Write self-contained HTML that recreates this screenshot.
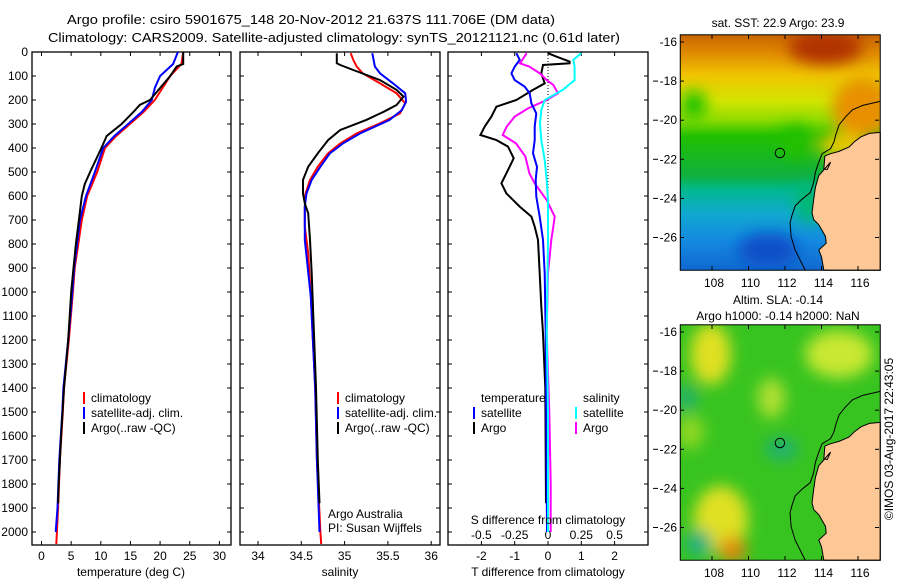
<!DOCTYPE html>
<html><head><meta charset="utf-8"><style>
html,body{margin:0;padding:0;background:#fff}
svg{display:block;font-family:"Liberation Sans",sans-serif}
text{fill:#000}
</style></head><body>
<svg id="chart" width="900" height="580" viewBox="0 0 900 580">
<defs>
<clipPath id="cp1"><rect x="32" y="52" width="199" height="493"/></clipPath>
<clipPath id="cp2"><rect x="240" y="52" width="200" height="493"/></clipPath>
<clipPath id="cp3"><rect x="448" y="52" width="200" height="493"/></clipPath>
<clipPath id="mapclip"><rect x="60" y="103" width="592" height="697"/></clipPath>
<filter id="blur" x="-20%" y="-20%" width="140%" height="140%"><feGaussianBlur stdDeviation="22"/></filter>
<linearGradient id="sstg" x1="0" y1="0" x2="0" y2="1">
<stop offset="0" stop-color="#c86400"/><stop offset="0.08" stop-color="#e08c00"/>
<stop offset="0.17" stop-color="#f0c400"/><stop offset="0.28" stop-color="#d4e400"/>
<stop offset="0.36" stop-color="#90dc00"/><stop offset="0.43" stop-color="#20c000"/>
<stop offset="0.6" stop-color="#10b040"/><stop offset="0.66" stop-color="#00b890"/>
<stop offset="0.76" stop-color="#10a8d0"/><stop offset="0.88" stop-color="#1488e0"/>
<stop offset="1" stop-color="#1068d0"/></linearGradient>
<g id="coast">
<path d="M652,300 L600,312 570,325 550,345 530,370 520,400 515,420 505,440 480,455 470,480 460,510 455,540 445,570 420,590 400,610 390,640 385,660 388,700 400,740 420,780 430,800" fill="none" stroke="#000" stroke-width="3"/>
<polygon points="652,392 620,395 595,405 575,420 560,435 530,448 505,455 488,462 485,500 495,502 505,480 470,520 460,555 455,590 450,630 455,650 470,665 490,700 492,720 470,740 478,760 485,800 652,800" fill="#fdc896" stroke="#000" stroke-width="3"/>
<circle cx="355" cy="453" r="14" fill="none" stroke="#000" stroke-width="3"/>
</g>
</defs>

<text x="311" y="24" text-anchor="middle" font-size="13" textLength="488" lengthAdjust="spacingAndGlyphs">Argo profile: csiro 5901675_148 20-Nov-2012 21.637S 111.706E (DM data)</text>
<text x="334" y="42" text-anchor="middle" font-size="13" textLength="572" lengthAdjust="spacingAndGlyphs">Climatology: CARS2009. Satellite-adjusted climatology: synTS_20121121.nc (0.61d later)</text>

<g id="axes"></g>
<g id="series"></g>

<g font-size="12">
<rect x="83" y="392" width="2" height="12" fill="#f00"/><text x="91" y="402">climatology</text>
<rect x="83" y="407" width="2" height="12" fill="#00f"/><text x="91" y="417">satellite-adj. clim.</text>
<rect x="83" y="422" width="2" height="12" fill="#000"/><text x="91" y="432">Argo(..raw -QC)</text>
</g>
<g font-size="12">
<rect x="337" y="392" width="2" height="12" fill="#f00"/><text x="345" y="402">climatology</text>
<rect x="337" y="407" width="2" height="12" fill="#00f"/><text x="345" y="417">satellite-adj. clim.</text>
<rect x="337" y="422" width="2" height="12" fill="#000"/><text x="345" y="432">Argo(..raw -QC)</text>
</g>
<text x="328" y="518" font-size="12">Argo Australia</text>
<text x="328" y="532" font-size="12">PI: Susan Wijffels</text>
<g font-size="12">
<text x="481" y="402">temperature</text>
<rect x="473" y="407" width="2" height="12" fill="#00f"/><text x="481" y="417">satellite</text>
<rect x="473" y="422" width="2" height="12" fill="#000"/><text x="481" y="432">Argo</text>
<text x="583" y="402">salinity</text>
<rect x="575" y="407" width="2" height="12" fill="#0ff"/><text x="583" y="417">satellite</text>
<rect x="575" y="422" width="2" height="12" fill="#f0f"/><text x="583" y="432">Argo</text>
</g>
<text x="548" y="524" text-anchor="middle" font-size="12">S difference from climatology</text>

<!-- top map -->
<g>
<text x="778" y="27" text-anchor="middle" font-size="12">sat. SST: 22.9 Argo: 23.9</text>
<g transform="translate(660,0) scale(0.3378)">
<g clip-path="url(#mapclip)">
<rect x="60" y="103" width="592" height="697" fill="url(#sstg)"/>
<g filter="url(#blur)">
<ellipse cx="490" cy="140" rx="110" ry="50" fill="#b03000"/>
<ellipse cx="600" cy="320" rx="90" ry="90" fill="#e89000"/>
<ellipse cx="540" cy="430" rx="70" ry="40" fill="#e8c800"/>
<ellipse cx="100" cy="310" rx="35" ry="40" fill="#10c000"/>
<ellipse cx="400" cy="420" rx="50" ry="50" fill="#20c000"/>
<ellipse cx="320" cy="740" rx="90" ry="50" fill="#0850c8"/>
<ellipse cx="440" cy="600" rx="40" ry="60" fill="#00b870"/>
</g>
</g>
<use href="#coast"/>
<rect x="60" y="103" width="592" height="697" fill="none" stroke="#000" stroke-width="3"/>
</g>
</g>
<!-- bottom map -->
<g>
<text x="778" y="304" text-anchor="middle" font-size="12">Altim. SLA: -0.14</text>
<text x="778" y="320" text-anchor="middle" font-size="12">Argo h1000: -0.14 h2000: NaN</text>
<g transform="translate(660,290) scale(0.3378)">
<g clip-path="url(#mapclip)">
<rect x="60" y="103" width="592" height="697" fill="#38c420"/>
<g filter="url(#blur)">
<ellipse cx="150" cy="190" rx="60" ry="90" fill="#e0e020"/>
<ellipse cx="530" cy="190" rx="100" ry="70" fill="#c8e830"/>
<ellipse cx="330" cy="320" rx="40" ry="60" fill="#b0e030"/>
<ellipse cx="180" cy="680" rx="80" ry="100" fill="#e0e020"/>
<ellipse cx="215" cy="770" rx="40" ry="40" fill="#e08810"/>
<ellipse cx="115" cy="750" rx="40" ry="40" fill="#20b080"/>
<ellipse cx="360" cy="470" rx="50" ry="35" fill="#20b070"/>
<ellipse cx="80" cy="320" rx="30" ry="40" fill="#20b070"/>
<ellipse cx="90" cy="420" rx="40" ry="50" fill="#90d820"/>
</g>
</g>
<use href="#coast"/>
<rect x="60" y="103" width="592" height="697" fill="none" stroke="#000" stroke-width="3"/>
</g>
</g>
<g id="mapaxes" font-size="12"></g>
<text transform="translate(893,439) rotate(-90)" text-anchor="middle" font-size="12">©IMOS 03-Aug-2017 22:43:05</text>
</svg>
<script>
// ---- data ----
const tempClimDepth = [0,50,100,150,200,250,300,350,400,500,600,700,800,900,1000,1200,1400,1500,1700,1900,2000,2050];
const tempClimVal   = [23.9,23.6,21.7,20.4,19.1,17.2,14.9,12.6,10.7,9.4,7.7,6.8,6.2,5.6,5.3,4.6,3.8,3.6,3.1,2.8,2.6,2.5];
const tempSatDepth  = [0,50,100,150,200,250,300,350,400,500,600,700,800,900,1000,1200,1400,1500,1700,1900,2000];
const tempSatVal    = [23.0,22.2,20.0,19.1,18.6,16.9,14.6,12.3,10.4,9.0,7.5,6.5,6.0,5.5,5.2,4.5,3.7,3.5,3.0,2.7,2.4];
const tempArgoDepth = [0,50,60,100,150,200,220,250,300,350,400,500,550,600,700,800,900,1000,1200,1400,1600,1800,1880];
const tempArgoVal   = [23.9,23.9,22.8,21.7,20.0,18.3,16.6,15.5,13.5,11.0,10.1,8.2,7.3,6.8,6.3,5.8,5.4,5.0,4.5,3.8,3.3,2.9,2.8];

const salClimDepth = [5,33,61,89,131,172,214,256,297,339,381,422,478,533,589,644,728,839,1019,1400,1700,2000,2050];
const salClimVal   = [35.07,35.10,35.14,35.21,35.41,35.60,35.70,35.64,35.41,35.14,34.95,34.81,34.69,34.60,34.55,34.54,34.54,34.58,34.61,34.66,34.68,34.72,34.73];
const salSatDepth  = [5,61,89,131,172,207,242,283,339,381,422,478,533,589,644,783,1019,1400,1700,2000];
const salSatVal    = [35.32,35.35,35.41,35.56,35.70,35.71,35.66,35.52,35.18,34.98,34.83,34.72,34.62,34.56,34.54,34.54,34.61,34.66,34.68,34.71];
const salArgoDepth = [5,47,54,75,117,158,186,221,249,283,325,367,422,478,533,589,631,672,783,922,1400,1700,1880];
const salArgoVal   = [34.91,34.91,34.95,35.10,35.41,35.60,35.68,35.60,35.45,35.25,34.95,34.81,34.69,34.58,34.52,34.52,34.54,34.58,34.60,34.62,34.67,34.69,34.71];

const tdSatDepth  = [5,33,61,89,117,144,172,214,256,311,367,422,478,533,603,686,783,922,1172,1500,2000];
const tdSatVal    = [-0.95,-0.85,-1.0,-1.1,-1.0,-0.7,-0.55,-0.5,-0.35,-0.4,-0.4,-0.45,-0.33,-0.37,-0.35,-0.25,-0.15,-0.1,-0.07,-0.05,-0.03];
const tdArgoDepth = [5,19,40,47,54,89,131,158,200,228,269,311,346,367,394,443,492,547,589,644,686,728,783,922,1061,1172,1400,1880];
const tdArgoVal   = [0,0.25,0.65,0.65,-0.15,-0.2,-0.1,-0.45,-0.95,-1.55,-1.7,-1.9,-2.03,-1.55,-1.2,-1.03,-1.2,-1.4,-1.25,-0.85,-0.5,-0.4,-0.3,-0.25,-0.2,-0.15,-0.08,-0.06];
const sdSatDepth  = [5,33,61,117,158,200,242,297,367,450,533,617,783,1172,1500,2000];
const sdSatVal    = [0.25,0.19,0.2,0.2,0.11,-0.025,-0.05,-0.06,-0.05,-0.025,-0.01,0,0,-0.01,0,0];
const sdArgoDepth = [5,47,61,89,117,137,172,200,235,269,311,346,381,436,506,547,617,686,728,783,922,1172,1500,1800,2000];
const sdArgoVal   = [-0.16,-0.21,-0.14,-0.06,-0.01,0.04,0.075,-0.01,-0.15,-0.25,-0.31,-0.34,-0.24,-0.17,-0.14,-0.1,-0.01,0.05,0.04,0.025,0,-0.01,0.01,0.02,0.02];

const depthTicks = [0,100,200,300,400,500,600,700,800,900,1000,1100,1200,1300,1400,1500,1600,1700,1800,1900,2000];
const tempTicks = [0,5,10,15,20,25,30];
const salTicks = [34,34.5,35,35.5,36];
const salTickLabels = ["34","34.5","35","35.5","36"];
const tdTicks = [-2,-1,0,1,2];
const sdTicks = [-0.5,-0.25,0,0.25,0.5];
const sdTickLabels = ["-0.5","-0.25","0","0.25","0.5"];
const latTicks = [-16,-18,-20,-22,-24,-26];
const lonTicks = [108,110,112,114,116];

// ---- scales ----
const yD = d => 52 + d * 0.24;
const xT = t => 41.5 + t * 5.93;
const xS = s => 258 + (s - 34) * 86.6;
const xTD = v => 548 + v * 33.3;
const xSD = v => 548 + v * 133.2;
const yLat = l => 42 + (-16 - l) * 19.55;
const xLon = l => 712 + (l - 108) * 18.25;

const NS = "http://www.w3.org/2000/svg";
function mk(tag, attrs, parent){const e=document.createElementNS(NS,tag);for(const k in attrs)e.setAttribute(k,attrs[k]);parent.appendChild(e);return e;}
const axes = document.getElementById('axes');
const series = document.getElementById('series');
const panels = [[32,231],[240,440],[448,648]];
const top0 = 52, bot = 545;

panels.forEach((p,i)=>{
  const r = mk('rect',{x:p[0],y:top0,width:p[1]-p[0],height:bot-top0,fill:'none',stroke:'#000','stroke-width':1.3},axes);
  
  
  depthTicks.forEach(d=>{
    mk('line',{x1:p[0],x2:p[0]+4,y1:yD(d),y2:yD(d),stroke:'#000'},axes);
    mk('line',{x1:p[1]-4,x2:p[1],y1:yD(d),y2:yD(d),stroke:'#000'},axes);
  });
});
depthTicks.forEach(d=>{
  const t = mk('text',{x:28,y:yD(d)+4,'text-anchor':'end','font-size':12},axes);
  t.textContent = d;
  
  
});

function xAxis(ticks, labels, sc, y, name, topTicks){
  ticks.forEach((v,i)=>{
    const x = sc(v);
    mk('line',{x1:x,x2:x,y1:bot-4,y2:bot,stroke:'#000'},axes);
    if(topTicks) mk('line',{x1:x,x2:x,y1:top0,y2:top0+4,stroke:'#000'},axes);
    const t = mk('text',{x:x,y:y,'text-anchor':'middle','font-size':12},axes);
    t.textContent = labels ? labels[i] : v;
    
    
  });
}
xAxis(tempTicks,null,xT,560,'temperature-tick-label',true);
xAxis(salTicks,salTickLabels,xS,560,'salinity-tick-label',true);
xAxis(tdTicks,null,xTD,560,'t-diff-tick-label',true);
sdTicks.forEach((v,i)=>{
  const t = mk('text',{x:xSD(v),y:539,'text-anchor':'middle','font-size':12},axes);
  t.textContent = sdTickLabels[i];
  
  
});
[['temperature (deg C)',131,'temperature-axis-title'],['salinity',340,'salinity-axis-title'],['T difference from climatology',548,'t-diff-axis-title']].forEach(a=>{
  const t = mk('text',{x:a[1],y:576,'text-anchor':'middle','font-size':12},axes);
  t.textContent = a[0];
  
  
});
// zero line
const zl = mk('line',{x1:xTD(0),x2:xTD(0),y1:top0,y2:yD(1000)-90,stroke:'#000','stroke-dasharray':'1,2'},axes);



function line(depths, vals, sc, color, clip, name){
  const pts = depths.map((d,i)=> sc(vals[i]).toFixed(1)+','+yD(d).toFixed(1)).join(' ');
  const pl = mk('polyline',{points:pts,fill:'none',stroke:color,'stroke-width':2,'clip-path':'url(#'+clip+')'},series);
  
  
}
line(tempClimDepth,tempClimVal,xT,'#f00','cp1','temperature-climatology-line');
line(tempSatDepth,tempSatVal,xT,'#00f','cp1','temperature-satellite-line');
line(tempArgoDepth,tempArgoVal,xT,'#000','cp1','temperature-argo-line');
line(salClimDepth,salClimVal,xS,'#f00','cp2','salinity-climatology-line');
line(salSatDepth,salSatVal,xS,'#00f','cp2','salinity-satellite-line');
line(salArgoDepth,salArgoVal,xS,'#000','cp2','salinity-argo-line');
line(tdArgoDepth,tdArgoVal,xTD,'#000','cp3','t-diff-argo-line');
line(sdArgoDepth,sdArgoVal,xSD,'#f0f','cp3','s-diff-argo-line');
line(tdSatDepth,tdSatVal,xTD,'#00f','cp3','t-diff-satellite-line');
line(sdSatDepth,sdSatVal,xSD,'#0ff','cp3','s-diff-satellite-line');

// map axes
const ma = document.getElementById('mapaxes');
[0,290].forEach(off=>{
  latTicks.forEach((l,i)=>{
    const y = yLat(l)+off;
    mk('line',{x1:680,x2:684,y1:y,y2:y,stroke:'#000'},ma);
    mk('line',{x1:875,x2:879,y1:y,y2:y,stroke:'#000'},ma);
    if(i>0) mk('line',{x1:653,x2:658,y1:y,y2:y,stroke:'#000'},ma);
    const t = mk('text',{x:677,y:y+4,'text-anchor':'end'},ma);
    t.textContent = l;
    
    
  });
  lonTicks.forEach(l=>{
    const x = xLon(l);
    mk('line',{x1:x,x2:x,y1:35+off,y2:39+off,stroke:'#000'},ma);
    mk('line',{x1:x,x2:x,y1:266+off,y2:270+off,stroke:'#000'},ma);
    const t = mk('text',{x:x+2,y:287+off,'text-anchor':'middle'},ma);
    t.textContent = l;
    
    
  });
});
</script>
</body></html>
